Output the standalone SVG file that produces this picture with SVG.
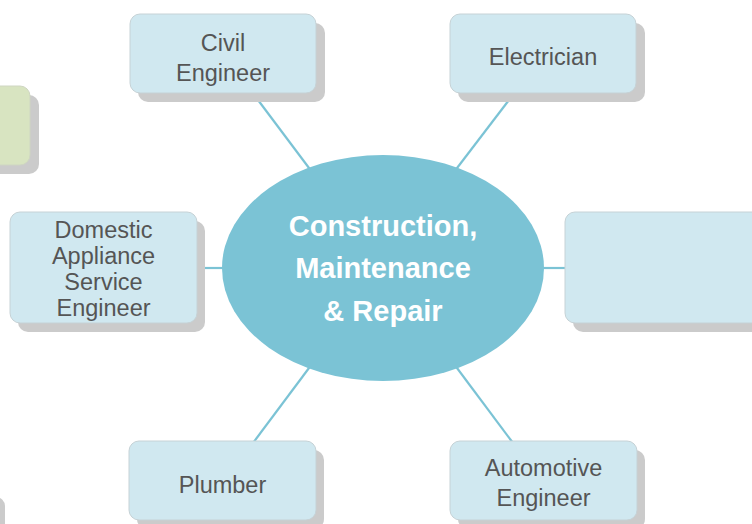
<svg xmlns="http://www.w3.org/2000/svg" width="752" height="524" viewBox="0 0 752 524">
<style>
.sh{fill:#cbcbcb}
.bx{fill:#d0e8f0;stroke:#c6d2d6;stroke-width:1}
.gb{fill:#d8e4c1;stroke:#cfd6c2;stroke-width:1}
.t{font-family:"Liberation Sans",Arial,sans-serif;font-size:23.5px;fill:#555555;text-anchor:middle}
.c{font-family:"Liberation Sans",Arial,sans-serif;font-size:29px;font-weight:bold;fill:#ffffff;text-anchor:middle}
.ln{stroke:#7bc3d5;stroke-width:2.2;fill:none}
</style>
<rect width="752" height="524" fill="#ffffff"/>
<g id="partial-bottom-left"><rect class="sh" x="-200" y="497" width="205" height="120" rx="9"/></g>
<g id="partial-green"><rect class="sh" x="-150" y="95" width="189" height="79" rx="10"/><rect class="gb" x="-158" y="86" width="188" height="79" rx="10"/></g>
<g id="connectors">
<line class="ln" x1="258" y1="100" x2="312" y2="172"/>
<line class="ln" x1="509" y1="100" x2="454" y2="172"/>
<line class="ln" x1="200" y1="268" x2="230" y2="268"/>
<line class="ln" x1="536" y1="268" x2="568" y2="268"/>
<line class="ln" x1="253" y1="443" x2="312" y2="364"/>
<line class="ln" x1="513" y1="443" x2="454" y2="364"/>
</g>
<g id="center"><ellipse cx="383" cy="268" rx="161" ry="113" fill="#7bc3d5"/>
<text class="c" x="383" y="236">Construction,</text>
<text class="c" x="383" y="278">Maintenance</text>
<text class="c" x="383" y="321">&amp; Repair</text></g>
<g id="civil"><rect class="sh" x="138" y="23" width="187" height="79" rx="10"/><rect class="bx" x="130" y="14" width="186" height="79" rx="10"/>
<text class="t" x="223" y="51">Civil</text><text class="t" x="223" y="81">Engineer</text></g>
<g id="electrician"><rect class="sh" x="458" y="23" width="187" height="79" rx="10"/><rect class="bx" x="450" y="14" width="186" height="79" rx="10"/>
<text class="t" x="543" y="65">Electrician</text></g>
<g id="domestic"><rect class="sh" x="18" y="221" width="187" height="111" rx="10"/><rect class="bx" x="10" y="212" width="187" height="111" rx="10"/>
<text class="t" x="103.5" y="238">Domestic</text><text class="t" x="103.5" y="264">Appliance</text><text class="t" x="103.5" y="290">Service</text><text class="t" x="103.5" y="316">Engineer</text></g>
<g id="right-empty"><rect class="sh" x="573" y="221" width="200" height="111" rx="10"/><rect class="bx" x="565" y="212" width="200" height="111" rx="10"/></g>
<g id="plumber"><rect class="sh" x="137" y="450" width="187" height="79" rx="10"/><rect class="bx" x="129" y="441" width="187" height="79" rx="10"/>
<text class="t" x="222.5" y="493">Plumber</text></g>
<g id="automotive"><rect class="sh" x="458" y="450" width="187" height="79" rx="10"/><rect class="bx" x="450" y="441" width="187" height="79" rx="10"/>
<text class="t" x="543.5" y="476">Automotive</text><text class="t" x="543.5" y="506">Engineer</text></g>
</svg>
